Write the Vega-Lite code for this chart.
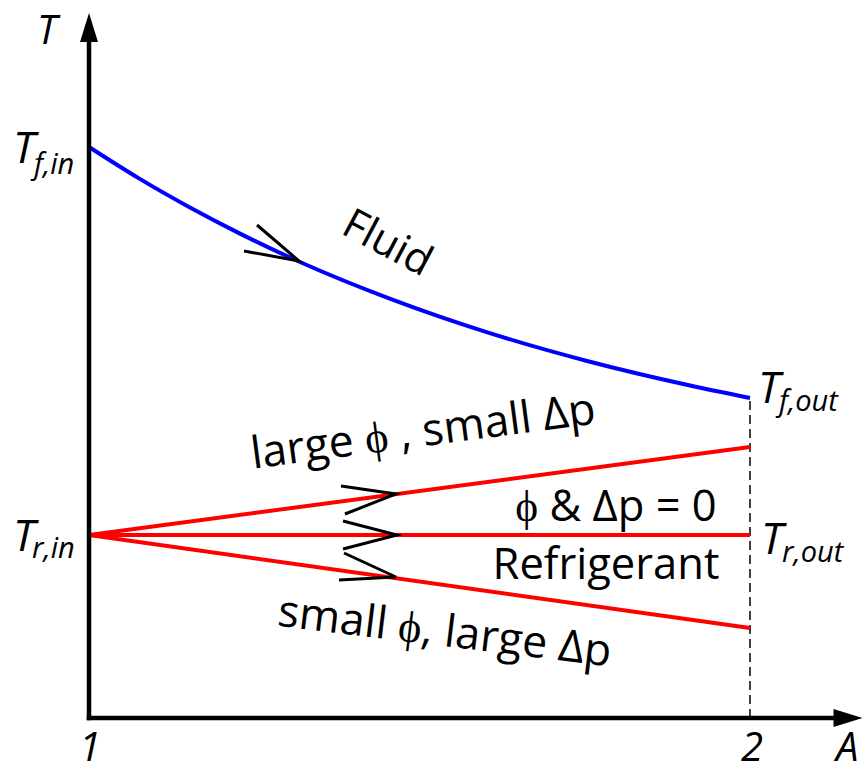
{
  "$schema": "https://vega.github.io/schema/vega-lite/v6.json",
  "width": 866,
  "height": 773,
  "padding": 0,
  "autosize": {"type": "fit", "contains": "padding"},
  "background": "white",
  "config": {"view": {"stroke": null}, "text": {"font": "Open Sans", "color": "black"}},
  "datasets": {
    "fluid": [
      {"a": 1, "t": 5.71}, {"a": 1.0756, "t": 5.396}, {"a": 1.1513, "t": 5.11},
      {"a": 1.2269, "t": 4.849}, {"a": 1.3192, "t": 4.56}, {"a": 1.4539, "t": 4.196},
      {"a": 1.6051, "t": 3.851}, {"a": 1.7564, "t": 3.565}, {"a": 1.9077, "t": 3.327},
      {"a": 2, "t": 3.2}
    ],
    "refrig": [
      {"s": "large phi", "a": 1, "t": 1.83}, {"s": "large phi", "a": 2, "t": 2.71},
      {"s": "zero", "a": 1, "t": 1.83}, {"s": "zero", "a": 2, "t": 1.83},
      {"s": "small phi", "a": 1, "t": 1.83}, {"s": "small phi", "a": 2, "t": 0.9}
    ],
    "dash": [{"a": 2, "t": 0}, {"a": 2, "t": 3.2}],
    "axes": [
      {"s": "T", "a": 1, "t": 0}, {"s": "T", "a": 1, "t": 6.8},
      {"s": "A", "a": 1, "t": 0}, {"s": "A", "a": 2.135, "t": 0}
    ],
    "arrowUp": [{"a": 1, "t": 6.905}],
    "arrowRight": [{"a": 2.1483, "t": 0}],
    "chev": [
      {"c": "f", "i": 0, "a": 1.2542, "t": 4.93}, {"c": "f", "i": 1, "a": 1.3177, "t": 4.57}, {"c": "f", "i": 2, "a": 1.2345, "t": 4.67},
      {"c": "r1", "i": 0, "a": 1.3812, "t": 2.32}, {"c": "r1", "i": 1, "a": 1.4644, "t": 2.24}, {"c": "r1", "i": 2, "a": 1.3873, "t": 2.04},
      {"c": "r2", "i": 0, "a": 1.3843, "t": 1.97}, {"c": "r2", "i": 1, "a": 1.466, "t": 1.83}, {"c": "r2", "i": 2, "a": 1.3843, "t": 1.69},
      {"c": "r3", "i": 0, "a": 1.3858, "t": 1.65}, {"c": "r3", "i": 1, "a": 1.4644, "t": 1.41}, {"c": "r3", "i": 2, "a": 1.3782, "t": 1.38}
    ],
    "corner": [
      {"label": "T", "a": 0.9213, "t": 6.74},
      {"label": "A", "a": 2.1301, "t": -0.43}
    ],
    "bigItalic": [
      {"label": "T", "a": 0.885, "t": 5.55},
      {"label": "T", "a": 0.885, "t": 1.67},
      {"label": "T", "a": 2.0121, "t": 3.15},
      {"label": "T", "a": 2.0166, "t": 1.64}
    ],
    "subs": [
      {"label": "f,in", "a": 0.9168, "t": 5.44},
      {"label": "r,in", "a": 0.9138, "t": 1.6},
      {"label": "f,out", "a": 2.0439, "t": 3.07},
      {"label": "r,out", "a": 2.0484, "t": 1.56}
    ],
    "ticks": [
      {"label": "1", "a": 1.0015, "t": -0.43},
      {"label": "2", "a": 2.003, "t": -0.43}
    ],
    "plainText": [
      {"label": "ϕ & Δp = 0", "a": 1.7973, "t": 1.97},
      {"label": "Refrigerant", "a": 1.7821, "t": 1.39}
    ],
    "upText": [{"label": "large ϕ , small Δp", "a": 1.5083, "t": 2.72}],
    "downText": [{"label": "small ϕ, large Δp", "a": 1.5356, "t": 0.72}],
    "fluidText": [{"label": "Fluid", "a": 1.4418, "t": 4.63}]
  },
  "encoding": {
    "x": {"field": "a", "type": "quantitative", "scale": {"domain": [0.86536, 2.17549], "nice": false, "zero": false}, "axis": null},
    "y": {"field": "t", "type": "quantitative", "scale": {"domain": [-0.55, 7.18], "nice": false, "zero": false}, "axis": null}
  },
  "layer": [
    {"data": {"name": "dash"}, "mark": {"type": "line", "color": "black", "strokeWidth": 1.5, "strokeDash": [9, 5]}, "encoding": {}},
    {"data": {"name": "fluid"}, "mark": {"type": "line", "color": "#0000FF", "strokeWidth": 4, "interpolate": "monotone"}, "encoding": {}},
    {"data": {"name": "refrig"}, "mark": {"type": "line", "color": "#FF0000", "strokeWidth": 4}, "encoding": {"detail": {"field": "s"}}},
    {"data": {"name": "axes"}, "mark": {"type": "line", "color": "black", "strokeWidth": 4.5, "strokeCap": "square"}, "encoding": {"detail": {"field": "s"}}},
    {"data": {"name": "arrowUp"}, "mark": {"type": "point", "shape": "M0,-1L0.62,1L-0.62,1Z", "size": 841, "filled": true, "color": "black", "opacity": 1, "strokeWidth": 0}, "encoding": {}},
    {"data": {"name": "arrowRight"}, "mark": {"type": "point", "shape": "M1,0L-1,0.62L-1,-0.62Z", "size": 841, "filled": true, "color": "black", "opacity": 1, "strokeWidth": 0}, "encoding": {}},
    {"data": {"name": "chev"}, "mark": {"type": "line", "color": "black", "strokeWidth": 3}, "encoding": {"detail": {"field": "c"}, "order": {"field": "i", "type": "quantitative"}}},
    {"data": {"name": "corner"}, "mark": {"type": "text", "fontSize": 40, "fontStyle": "italic", "align": "left", "baseline": "alphabetic"}, "encoding": {"text": {"field": "label"}}},
    {"data": {"name": "bigItalic"}, "mark": {"type": "text", "fontSize": 44, "fontStyle": "italic", "align": "left", "baseline": "alphabetic"}, "encoding": {"text": {"field": "label"}}},
    {"data": {"name": "subs"}, "mark": {"type": "text", "fontSize": 29, "fontStyle": "italic", "align": "left", "baseline": "alphabetic"}, "encoding": {"text": {"field": "label"}}},
    {"data": {"name": "ticks"}, "mark": {"type": "text", "fontSize": 40, "fontStyle": "italic", "align": "center", "baseline": "alphabetic"}, "encoding": {"text": {"field": "label"}}},
    {"data": {"name": "plainText"}, "mark": {"type": "text", "fontSize": 43.5, "align": "center", "baseline": "alphabetic"}, "encoding": {"text": {"field": "label"}}},
    {"data": {"name": "upText"}, "mark": {"type": "text", "fontSize": 44.5, "align": "center", "baseline": "alphabetic", "angle": -7.5}, "encoding": {"text": {"field": "label"}}},
    {"data": {"name": "downText"}, "mark": {"type": "text", "fontSize": 44.5, "align": "center", "baseline": "alphabetic", "angle": 7}, "encoding": {"text": {"field": "label"}}},
    {"data": {"name": "fluidText"}, "mark": {"type": "text", "fontSize": 42, "align": "center", "baseline": "alphabetic", "angle": 28}, "encoding": {"text": {"field": "label"}}}
  ]
}
